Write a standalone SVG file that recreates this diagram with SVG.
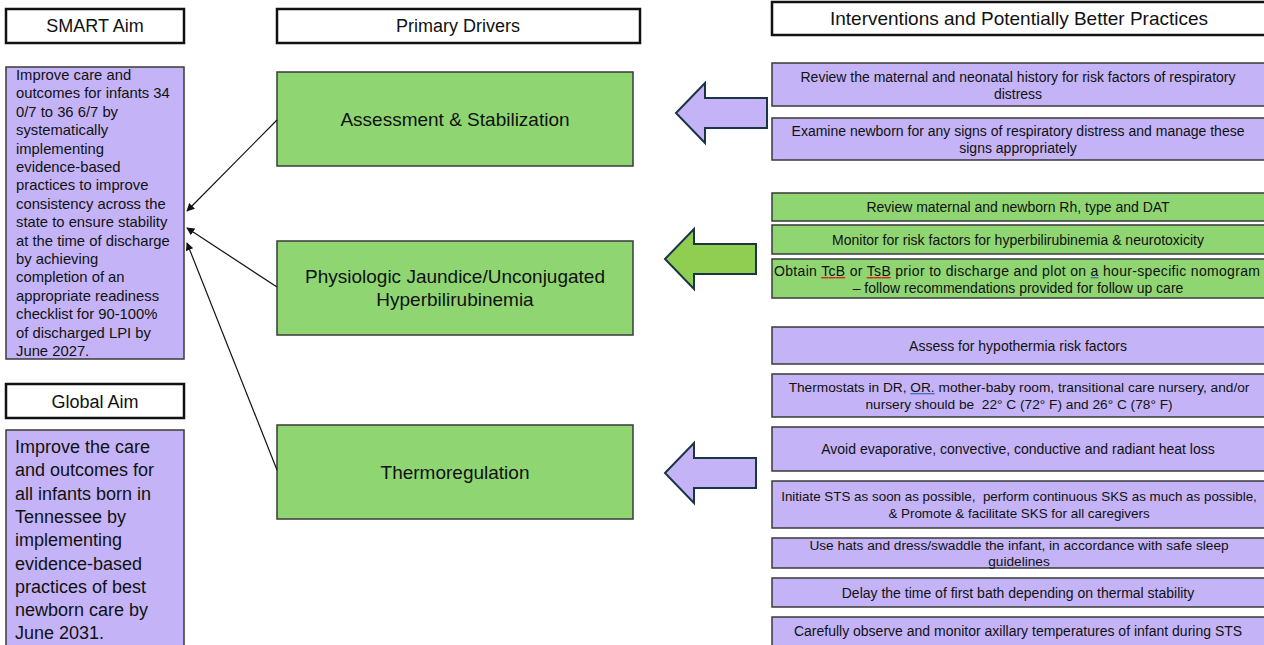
<svg xmlns="http://www.w3.org/2000/svg" width="1264" height="645" viewBox="0 0 1264 645">
<defs>
<style>
text{font-family:"Liberation Sans",Arial,sans-serif;fill:#111;}
.hdr{fill:#fff;stroke:#111;stroke-width:2.5;}
.ht{font-size:18px;text-anchor:middle;}
.pur{fill:#c4b4f7;stroke:#3a3a3a;stroke-width:1.5;}
.grn{fill:#8fd673;stroke:#3a3a3a;stroke-width:1.5;}
.mt{font-size:19px;text-anchor:middle;}
.rt{font-size:14px;text-anchor:middle;}
.st{font-size:14.8px;}
.gt{font-size:18px;}
.conn{stroke:#111;stroke-width:1.2;fill:none;marker-end:url(#ah);}
.barrow{stroke:#1b3545;stroke-width:2;stroke-linejoin:miter;}
.sq{text-decoration:underline;fill:#e02020;}
.bl{text-decoration:underline;fill:#4472c4;}
.in{fill:#111;}
</style>
<marker id="ah" viewBox="0 0 10 10" refX="9" refY="5" markerWidth="8" markerHeight="8" markerUnits="userSpaceOnUse" orient="auto">
<path d="M0,0 L10,5 L0,10 z" fill="#111"/>
</marker>
</defs>

<!-- Left column -->
<g id="smart-aim-header">
<rect class="hdr" x="6" y="9" width="178" height="34"/>
<text class="ht" x="95" y="32">SMART Aim</text>
</g>
<g id="smart-aim">
<rect class="pur" x="6" y="67" width="178" height="292"/>
<text class="st" x="16" y="80">
<tspan x="16">Improve care and</tspan>
<tspan x="16" dy="18.4">outcomes for infants 34</tspan>
<tspan x="16" dy="18.4">0/7 to 36 6/7 by</tspan>
<tspan x="16" dy="18.4">systematically</tspan>
<tspan x="16" dy="18.4">implementing</tspan>
<tspan x="16" dy="18.4">evidence-based</tspan>
<tspan x="16" dy="18.4">practices to improve</tspan>
<tspan x="16" dy="18.4">consistency across the</tspan>
<tspan x="16" dy="18.4">state to ensure stability</tspan>
<tspan x="16" dy="18.4">at the time of discharge</tspan>
<tspan x="16" dy="18.4">by achieving</tspan>
<tspan x="16" dy="18.4">completion of an</tspan>
<tspan x="16" dy="18.4">appropriate readiness</tspan>
<tspan x="16" dy="18.4">checklist for 90-100%</tspan>
<tspan x="16" dy="18.4">of discharged LPI by</tspan>
<tspan x="16" dy="18.4">June 2027.</tspan>
</text>
</g>
<g id="global-aim-header">
<rect class="hdr" x="6" y="384" width="178" height="34"/>
<text class="ht" x="95" y="408">Global Aim</text>
</g>
<g id="global-aim">
<rect class="pur" x="6" y="430" width="178" height="220"/>
<text class="gt" x="15" y="453">
<tspan x="15">Improve the care</tspan>
<tspan x="15" dy="23.3">and outcomes for</tspan>
<tspan x="15" dy="23.3">all infants born in</tspan>
<tspan x="15" dy="23.3">Tennessee by</tspan>
<tspan x="15" dy="23.3">implementing</tspan>
<tspan x="15" dy="23.3">evidence-based</tspan>
<tspan x="15" dy="23.3">practices of best</tspan>
<tspan x="15" dy="23.3">newborn care by</tspan>
<tspan x="15" dy="23.3">June 2031.</tspan>
</text>
</g>

<!-- Middle column -->
<g id="primary-drivers-header">
<rect class="hdr" x="277" y="9" width="363" height="34"/>
<text class="ht" x="458" y="32">Primary Drivers</text>
</g>
<g id="driver-assessment">
<rect class="grn" x="277" y="72" width="356" height="94"/>
<text class="mt" x="455" y="126">Assessment &amp; Stabilization</text>
</g>
<g id="driver-jaundice">
<rect class="grn" x="277" y="241" width="356" height="94"/>
<text class="mt" x="455" y="283">Physiologic Jaundice/Unconjugated</text>
<text class="mt" x="455" y="306">Hyperbilirubinemia</text>
</g>
<g id="driver-thermoregulation">
<rect class="grn" x="277" y="425" width="356" height="94"/>
<text class="mt" x="455" y="479">Thermoregulation</text>
</g>

<!-- Block arrows -->
<g id="arrow-assessment">
<polygon class="barrow" fill="#c4b4f7" points="676,113 705,83 705,98 767,98 767,128 705,128 705,143"/>
</g>
<g id="arrow-jaundice">
<polygon class="barrow" fill="#8fce50" points="665,259 694,229 694,244 756,244 756,274 694,274 694,289"/>
</g>
<g id="arrow-thermo">
<polygon class="barrow" fill="#c4b4f7" points="665,473 694,443 694,458 756,458 756,488 694,488 694,503"/>
</g>

<!-- Right column -->
<g id="interventions-header">
<rect class="hdr" x="772" y="2" width="496" height="33"/>
<text class="ht" x="1019" y="25" style="font-size:19px">Interventions and Potentially Better Practices</text>
</g>
<g id="int-review-history">
<rect class="pur" x="772" y="63" width="496" height="43"/>
<text class="rt" x="1018" y="82">Review the maternal and neonatal history for risk factors of respiratory</text>
<text class="rt" x="1018" y="99">distress</text>
</g>
<g id="int-examine">
<rect class="pur" x="772" y="118" width="496" height="42"/>
<text class="rt" x="1018" y="136">Examine newborn for any signs of respiratory distress and manage these</text>
<text class="rt" x="1018" y="153">signs appropriately</text>
</g>
<g id="int-rh">
<rect class="grn" x="772" y="193" width="496" height="28"/>
<text class="rt" x="1018" y="212">Review maternal and newborn Rh, type and DAT</text>
</g>
<g id="int-monitor">
<rect class="grn" x="772" y="225" width="496" height="29"/>
<text class="rt" x="1018" y="245">Monitor for risk factors for hyperbilirubinemia &amp; neurotoxicity</text>
</g>
<g id="int-tcb">
<rect class="grn" x="772" y="259" width="496" height="39"/>
<text class="rt" x="1017" y="276" textLength="486" lengthAdjust="spacing">Obtain <tspan class="sq"><tspan class="in">TcB</tspan></tspan> or <tspan class="sq"><tspan class="in">TsB</tspan></tspan> prior to discharge and plot on <tspan class="bl"><tspan class="in">a</tspan></tspan> hour-specific nomogram</text>
<text class="rt" x="1018" y="293">– follow recommendations provided for follow up care</text>
</g>
<g id="int-assess-hypo">
<rect class="pur" x="772" y="327" width="496" height="37"/>
<text class="rt" x="1018" y="351">Assess for hypothermia risk factors</text>
</g>
<g id="int-thermostats">
<rect class="pur" x="772" y="374" width="496" height="43"/>
<text class="rt" x="1019" y="392" style="font-size:13.7px">Thermostats in DR, <tspan class="bl"><tspan class="in">OR.</tspan></tspan> mother-baby room, transitional care nursery, and/or</text>
<text class="rt" x="1019" y="409" style="font-size:13.7px" xml:space="preserve">nursery should be  22° C (72° F) and 26° C (78° F)</text>
</g>
<g id="int-avoid">
<rect class="pur" x="772" y="427" width="496" height="44"/>
<text class="rt" x="1018" y="454">Avoid evaporative, convective, conductive and radiant heat loss</text>
</g>
<g id="int-sts">
<rect class="pur" x="772" y="481" width="496" height="47"/>
<text class="rt" x="1019" y="501" style="font-size:13.4px" xml:space="preserve">Initiate STS as soon as possible,  perform continuous SKS as much as possible,</text>
<text class="rt" x="1019" y="518" style="font-size:13.4px">&amp; Promote &amp; facilitate SKS for all caregivers</text>
</g>
<g id="int-hats">
<rect class="pur" x="772" y="538" width="496" height="30"/>
<text class="rt" x="1019" y="550" style="font-size:13.7px">Use hats and dress/swaddle the infant, in accordance with safe sleep</text>
<text class="rt" x="1019" y="566" style="font-size:13.7px">guidelines</text>
</g>
<g id="int-bath">
<rect class="pur" x="772" y="578" width="496" height="29"/>
<text class="rt" x="1018" y="598">Delay the time of first bath depending on thermal stability</text>
</g>
<g id="int-axillary">
<rect class="pur" x="772" y="617" width="496" height="33"/>
<text class="rt" x="1018" y="636">Carefully observe and monitor axillary temperatures of infant during STS</text>
</g>

<!-- Connectors -->
<g id="connectors">
<line class="conn" x1="277" y1="120" x2="187" y2="211"/>
<line class="conn" x1="277" y1="287" x2="187" y2="228"/>
<line class="conn" x1="277" y1="470" x2="187" y2="243"/>
</g>
</svg>
